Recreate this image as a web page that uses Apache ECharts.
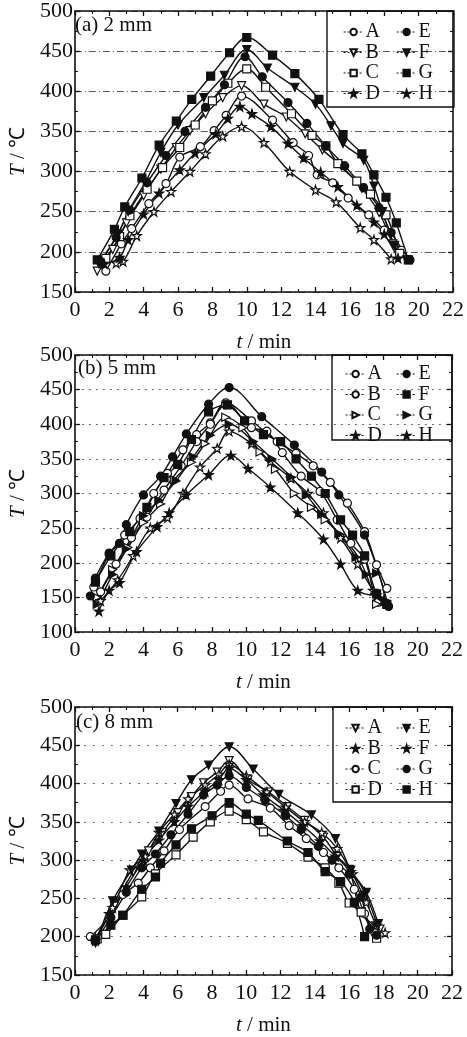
<!DOCTYPE html>
<html>
<head>
<meta charset="utf-8">
<script src="https://cdn.jsdelivr.net/npm/echarts@6/dist/echarts.min.js"></script>
<style>
  html, body { margin: 0; padding: 0; background: #fff; }
  #chart { width: 467px; height: 1037px; }
</style>
</head>
<body>
<div id="chart"></div>
<script>
// ---- panel (a) 2 mm : [t/min, T/°C]
const a_A = [[1.8,176],[2.7,210],[3.3,229],[4.3,260],[5.3,285],[6.1,318],[7.3,331],[8.1,351],[8.8,370],[9.7,394],[11.5,364],[12.7,336],[13.6,320],[14.1,296],[15.0,286],[15.9,267],[17.1,246],[18.0,227],[19.0,202]]
const a_B = [[1.3,176],[2.2,203],[3.0,236],[4.0,270],[5.0,303],[5.9,330],[6.7,351],[7.6,372],[8.6,392],[9.7,407],[11.0,384],[12.3,368],[13.4,347],[14.4,327],[15.5,307],[16.7,279],[17.7,249],[18.5,210],[18.9,195]]
const a_C = [[1.8,192],[2.6,219],[3.2,245],[4.2,278],[5.1,305],[6.1,330],[7.0,358],[8.0,388],[8.9,410],[10.0,428],[11.1,405],[12.6,372],[13.8,345],[14.6,332],[15.3,310],[16.4,288],[17.2,272],[18.1,246],[18.9,198]]
const a_D = [[2.4,186],[2.8,188],[3.6,220],[4.6,250],[5.6,275],[6.7,300],[7.6,322],[8.6,344],[9.7,356],[11.0,336],[12.5,300],[14.0,277],[15.2,262],[16.6,230],[17.4,215],[18.4,191]]
const a_E = [[1.5,188],[2.4,218],[3.2,252],[4.2,286],[5.3,320],[6.4,350],[7.6,380],[8.7,408],[9.9,443],[10.9,418],[12.4,386],[13.5,360],[14.6,332],[15.7,307],[16.8,280],[17.7,255],[18.4,224],[19.5,190]]
const a_F = [[1.4,185],[2.5,222],[3.1,250],[4.1,287],[5.0,324],[6.0,358],[7.5,392],[8.7,420],[10.0,452],[11.2,429],[12.8,405],[14.0,384],[14.9,357],[15.6,335],[16.8,314],[17.4,282],[17.9,250],[18.6,208],[19.3,190]]
const a_G = [[1.3,190],[2.3,228],[2.9,256],[3.9,292],[4.9,333],[5.9,363],[6.8,390],[7.9,419],[9.0,448],[10.0,467],[11.5,445],[12.8,422],[14.2,390],[15.6,346],[16.7,322],[17.4,296],[18.1,268],[18.7,236],[19.4,190]]
const a_H = [[1.7,185],[2.6,193],[3.1,215],[4.0,247],[4.9,273],[6.1,302],[7.0,323],[8.2,347],[8.9,366],[9.6,381],[10.3,372],[11.4,356],[12.4,335],[13.3,317],[14.3,299],[15.3,281],[16.4,258],[17.4,237],[18.0,222],[18.8,192]]

// ---- panel (b) 5 mm
const b_A = [[1.1,165],[2.0,212],[2.9,240],[3.8,264],[4.6,300],[5.4,329],[6.3,363],[7.1,385],[7.9,402],[8.8,431],[10.3,405],[11.8,375],[12.9,358],[13.9,340],[14.9,316],[15.9,286],[16.9,245],[17.6,197],[18.2,163]]
const b_B = [[1.5,158],[2.4,198],[3.3,236],[4.2,266],[5.2,305],[6.2,340],[7.1,375],[7.9,400],[8.8,428],[10.3,395],[11.2,390],[12.1,359],[13.2,325],[14.3,303],[15.3,262],[16.1,228],[16.9,205],[17.7,143],[18.1,142]]
const b_C = [[1.3,150],[2.2,190],[3.1,222],[4.0,258],[5.0,285],[5.8,320],[6.8,345],[7.6,372],[8.8,410],[9.8,395],[10.8,360],[11.7,335],[12.8,300],[13.8,280],[14.6,262],[15.5,240],[16.6,205],[17.6,140]]
const b_D = [[1.5,145],[2.5,175],[3.4,210],[4.4,250],[5.4,265],[6.3,300],[7.3,338],[8.3,365],[9.0,390],[10.3,372],[11.4,346],[12.6,322],[13.6,300],[14.5,272],[15.5,236],[16.5,198],[17.4,160],[18.0,145]]
const b_E = [[0.9,152],[1.2,178],[2.0,214],[2.6,228],[3.0,255],[4.0,298],[5.0,325],[5.7,353],[6.5,386],[7.8,429],[9.0,453],[10.9,411],[12.8,370],[14.4,331],[15.4,298],[16.9,240],[18.3,137]]
const b_F = [[1.2,172],[2.1,210],[3.2,245],[4.2,280],[5.2,323],[6.0,342],[6.8,378],[7.8,418],[8.9,428],[9.9,405],[11.0,385],[12.0,375],[12.9,350],[13.8,325],[14.6,300],[15.5,262],[16.2,240],[16.9,210],[17.6,155],[18.2,140]]
const b_G = [[1.3,140],[2.2,183],[3.0,220],[4.0,268],[4.9,290],[5.9,318],[6.9,353],[7.9,384],[9.0,400],[10.4,375],[11.5,350],[12.6,324],[13.5,298],[14.4,270],[15.4,242],[16.4,208],[17.0,183],[17.6,185],[18.1,145]]
const b_H = [[1.4,130],[2.0,160],[2.6,171],[3.6,216],[4.8,252],[5.5,272],[6.5,298],[7.8,327],[9.1,355],[10.1,336],[11.4,309],[13.0,272],[14.5,234],[15.5,198],[16.5,160],[17.6,153]]

// ---- panel (c) 8 mm
const c_A = [[1.2,196],[2.3,240],[3.4,285],[4.3,312],[5.1,336],[6.0,362],[6.8,383],[7.5,401],[8.3,415],[9.0,430],[10.1,405],[11.3,389],[12.4,370],[13.4,352],[14.5,330],[15.3,305],[16.0,288],[16.7,232],[17.8,210]]
const c_B = [[1.2,198],[2.2,238],[3.2,287],[4.1,305],[4.9,336],[5.8,360],[6.6,380],[7.6,398],[8.4,412],[9.0,425],[10.0,410],[11.2,389],[12.3,369],[13.4,350],[14.4,336],[15.3,315],[16.2,282],[17.0,245],[17.6,215],[18.1,205]]
const c_C = [[0.9,200],[2.0,225],[2.8,255],[3.7,270],[4.4,290],[5.2,312],[6.1,340],[7.6,370],[8.5,390],[9.0,398],[10.1,380],[11.4,368],[12.5,345],[13.5,328],[14.5,310],[15.4,290],[16.3,262],[16.9,230],[17.5,205]]
const c_D = [[1.3,197],[1.8,203],[2.8,228],[3.9,252],[4.7,282],[5.9,307],[6.9,330],[7.9,350],[9.0,364],[10.0,353],[11.0,337],[12.4,322],[13.6,304],[14.6,290],[15.4,270],[16.0,244],[16.7,232],[17.6,198]]
const c_E = [[1.2,192],[2.2,247],[3.3,287],[3.9,308],[4.9,338],[5.9,374],[6.8,405],[7.8,424],[9.0,448],[10.4,419],[11.9,386],[13.8,359],[15.2,328],[16.1,287],[17.0,258],[17.7,217]]
const c_F = [[1.2,195],[2.0,230],[3.0,265],[4.0,300],[4.9,326],[5.8,350],[6.6,370],[7.6,390],[8.4,405],[9.0,420],[10.0,405],[11.0,385],[12.2,365],[13.3,345],[14.3,325],[15.2,305],[16.1,285],[16.9,258],[17.6,218]]
const c_G = [[1.2,194],[2.1,225],[3.0,258],[3.9,290],[4.7,308],[5.6,333],[6.6,360],[7.5,385],[8.3,398],[9.0,410],[10.0,395],[11.1,378],[12.3,358],[13.2,340],[14.2,318],[15.0,300],[16.0,282],[16.7,252],[17.2,210],[17.6,202]]
const c_H = [[1.2,196],[2.1,215],[2.8,228],[3.9,262],[4.7,278],[5.0,296],[5.9,320],[6.8,341],[8.0,358],[9.0,375],[10.0,360],[10.7,352],[12.4,325],[13.6,310],[14.6,285],[15.5,272],[16.3,245],[16.9,200]]

const names = ['A', 'B', 'C', 'D', 'E', 'F', 'G', 'H']
const titles = ['(a) 2 mm', '(b) 5 mm', '(c) 8 mm']
const xRange = [0, 22, 2]
const yRanges = [[150, 500, 50], [100, 500, 50], [150, 500, 50]]
const panelData = [
  [a_A, a_B, a_C, a_D, a_E, a_F, a_G, a_H],
  [b_A, b_B, b_C, b_D, b_E, b_F, b_G, b_H],
  [c_A, c_B, c_C, c_D, c_E, c_F, c_G, c_H],
]

// marker styles: [symbol, filled, rotate]
const STAR = 'path://M12,0L14.8,8.6L24,8.6L16.6,14L19.4,23L12,17.6L4.6,23L7.4,14L0,8.6L9.2,8.6Z'
const markers = [
  [['circle', 0, 0], ['triangle', 0, 180], ['rect', 0, 0], [STAR, 0, 0], ['circle', 1, 0], ['triangle', 1, 180], ['rect', 1, 0], [STAR, 1, 0]],
  [['circle', 0, 0], ['circle', 0, 0], ['triangle', 0, -90], [STAR, 0, 0], ['circle', 1, 0], ['rect', 1, 0], ['triangle', 1, -90], [STAR, 1, 0]],
  [['triangle', 0, 180], [STAR, 0, 0], ['circle', 0, 0], ['rect', 0, 0], ['triangle', 1, 180], [STAR, 1, 0], ['circle', 1, 0], ['rect', 1, 0]],
]

const grids = [
  { left: 69, top: 11, width: 385, height: 281 },
  { left: 71, top: 355, width: 381, height: 277 },
  { left: 67, top: 707, width: 385, height: 278 },
]
const legendBoxes = [[327, 11, 127, 96], [332, 355, 120, 85], [333, 707, 119, 95]]
const legendPos = [[343, 22, 396], [345, 364, 396], [345, 718, 396]]
const titlePos = [[75, 15], [78, 358], [76, 712]]
const gridStyle = [
  { color: '#333', type: [7, 3, 1, 3], width: 1, opacity: 0.8 },
  { color: '#444', type: [2, 5], width: 1, opacity: 0.8 },
  { color: '#444', type: [2, 7], width: 1, opacity: 0.8 },
]

const SERIF = '"Liberation Serif", "Times New Roman", serif'
const INK = '#111'

const xAxis = []
const yAxis = []
const series = []
const legend = []
const title = []
const graphic = []

grids.forEach((g, i) => {
  const frame = { onZero: false, lineStyle: { color: INK, width: 1.6 } }
  const tick = { inside: true, length: 5, lineStyle: { color: INK, width: 1.3 } }
  const minor = { show: true, splitNumber: 2, length: 3, lineStyle: { color: INK, width: 1.1 } }
  const label = { color: INK, fontFamily: SERIF, fontSize: 22 }
  xAxis.push({
    gridIndex: i, type: 'value', position: 'bottom',
    min: xRange[0], max: xRange[1], interval: xRange[2],
    axisLine: frame, axisTick: tick, minorTick: minor,
    axisLabel: { ...label, margin: 7 },
    splitLine: { show: false },
    name: '{it|t} / min', nameLocation: 'middle', nameGap: 40,
    nameTextStyle: { color: INK, fontFamily: SERIF, fontSize: 21, rich: { it: { fontStyle: 'italic', fontFamily: SERIF, fontSize: 21, color: INK } } },
  })
  xAxis.push({
    gridIndex: i, type: 'value', position: 'top',
    min: xRange[0], max: xRange[1], interval: xRange[2],
    axisLine: frame, axisTick: tick, minorTick: minor,
    axisLabel: { show: false }, splitLine: { show: false },
  })
  const [ymin, ymax, yint] = yRanges[i]
  yAxis.push({
    gridIndex: i, type: 'value', position: 'left',
    min: ymin, max: ymax, interval: yint,
    axisLine: frame, axisTick: tick, minorTick: minor,
    axisLabel: { ...label, margin: 2 },
    splitLine: { show: true, lineStyle: gridStyle[i] },
    name: '{it|T} / ℃', nameLocation: 'middle', nameGap: 45,
    nameTextStyle: { color: INK, fontFamily: SERIF, fontSize: 21, rich: { it: { fontStyle: 'italic', fontFamily: SERIF, fontSize: 21, color: INK } } },
  })
  yAxis.push({
    gridIndex: i, type: 'value', position: 'right',
    min: ymin, max: ymax, interval: yint,
    axisLine: frame, axisTick: tick, minorTick: minor,
    axisLabel: { show: false }, splitLine: { show: false },
  })

  panelData[i].forEach((data, k) => {
    const [symbol, filled, rotate] = markers[i][k]
    series.push({
      name: 'p' + i + '-' + names[k],
      type: 'line',
      xAxisIndex: 2 * i,
      yAxisIndex: 2 * i,
      data,
      smooth: 0.35,
      symbol,
      symbolRotate: rotate,
      symbolSize: symbol === STAR ? 9 : 8,
      lineStyle: { color: INK, width: 1.4 },
      itemStyle: { color: filled ? INK : '#fff', borderColor: INK, borderWidth: 1.2 },
      emphasis: { disabled: true },
      z: 3,
    })
  })

  const [lx, ly, lx2] = legendPos[i]
  const common = {
    orient: 'vertical', top: ly, itemGap: 0.5, itemWidth: 20, itemHeight: 8,
    padding: 0, selectedMode: false,
    formatter: (n) => n.split('-')[1],
    lineStyle: { type: [2, 2], width: 1.2 },
    textStyle: { color: INK, fontFamily: SERIF, fontSize: 20, lineHeight: 19, padding: [0, 0, 0, -3] },
  }
  legend.push({ ...common, left: lx, data: names.slice(0, 4).map(n => 'p' + i + '-' + n) })
  legend.push({ ...common, left: lx2, data: names.slice(4).map(n => 'p' + i + '-' + n) })

  const [bx, by, bw, bh] = legendBoxes[i]
  graphic.push({
    type: 'rect', z: 10, silent: true,
    shape: { x: bx, y: by, width: bw, height: bh },
    style: { fill: 'transparent', stroke: INK, lineWidth: 1.4 },
  })

  title.push({
    text: titles[i], left: titlePos[i][0], top: titlePos[i][1], padding: 0,
    textStyle: { color: INK, fontFamily: SERIF, fontSize: 21, fontWeight: 'normal' },
  })
})

const chart = echarts.init(document.getElementById('chart'), null, { renderer: 'canvas' })
chart.setOption({
  animation: false,
  backgroundColor: '#fff',
  grid: grids,
  xAxis,
  yAxis,
  series,
  legend,
  title,
  graphic,
})
</script>
</body>
</html>
